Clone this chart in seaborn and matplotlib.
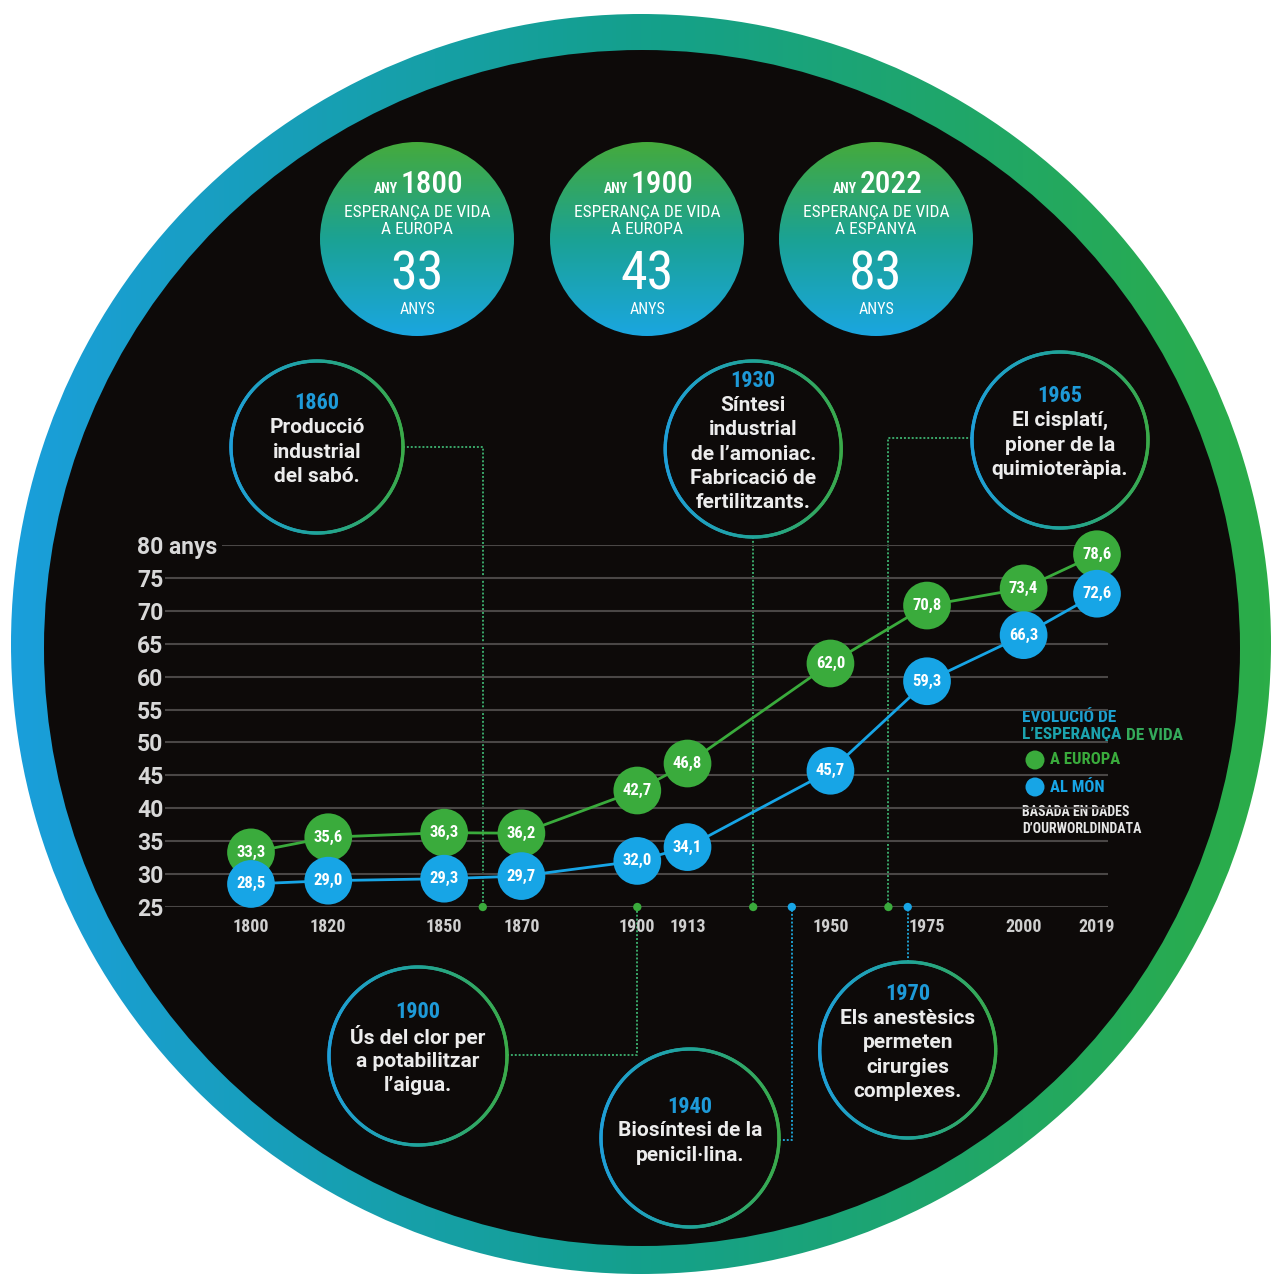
import numpy as np
import pandas as pd
import matplotlib
matplotlib.use("Agg")
import matplotlib.pyplot as plt
import matplotlib.font_manager as fm
import seaborn as sns
from matplotlib.patches import Circle
from matplotlib.collections import LineCollection
from matplotlib.colors import LinearSegmentedColormap

# ---------------- data ----------------
years = [1800, 1820, 1850, 1870, 1900, 1913, 1950, 1975, 2000, 2019]
europe = [33.3, 35.6, 36.3, 36.2, 42.7, 46.8, 62.0, 70.8, 73.4, 78.6]
world = [28.5, 29.0, 29.3, 29.7, 32.0, 34.1, 45.7, 59.3, 66.3, 72.6]
y_ticks = [25, 30, 35, 40, 45, 50, 55, 60, 65, 70, 75, 80]
y_tick_labels = ["25", "30", "35", "40", "45", "50", "55", "60", "65", "70", "75", "80 anys"]
x_tick_labels = ["1800", "1820", "1850", "1870", "1900", "1913", "1950", "1975", "2000", "2019"]

top_years = ["1800", "1900", "2022"]
top_places = ["A EUROPA", "A EUROPA", "A ESPANYA"]
top_values = ["33", "43", "83"]

event_years = [1860, 1930, 1965, 1900, 1940, 1970]
event_texts = [
    "Producció\nindustrial\ndel sabó.",
    "Síntesi\nindustrial\nde l’amoniac.\nFabricació de\nfertilitzants.",
    "El cisplatí,\npioner de la\nquimioteràpia.",
    "Ús del clor per\na potabilitzar\nl’aigua.",
    "Biosíntesi de la\npenicil·lina.",
    "Els anestèsics\npermeten\ncirurgies\ncomplexes.",
]
event_groups = ["green", "green", "green", "green", "blue", "blue"]

# ---------------- layout / style ----------------
W, H, DPI = 1275, 1278, 100
GREEN = "#3aab3c"
BLUE = "#17a5e6"
YEAR_BLUE = "#1e9ad8"
BLACK = "#0d0a09"

_names = {f.name for f in fm.fontManager.ttflist}


def pick(cands, default="DejaVu Sans"):
    for c in cands:
        if c in _names:
            return c
    return default


BODY = pick(["Roboto", "Lato", "Open Sans"])
COND = pick(["Roboto Condensed", "Open Sans Condensed", "Liberation Sans Narrow", "Roboto", "Lato"])

# event circle layout: (cx, cy, r, side, elbow_y)
event_layout = [
    (317, 447, 86, "right", 447),
    (None, 449, 88, "bottom", None),
    (1060, 440, 88, "left", 438),
    (418, 1056, 89, "right", 1055),
    (690, 1138, 89, "right", 1140),
    (None, 1050, 88, "top", None),
]
top_centers = [(417, 239), (647, 239), (876, 239)]
TOP_R = 97

fig = plt.figure(figsize=(W / DPI, H / DPI), dpi=DPI, facecolor="white")

# background (pixel coordinates)
bg = fig.add_axes([0, 0, 1, 1], zorder=0)
bg.axis("off")

ring_cmap = LinearSegmentedColormap.from_list("ring", ["#1a9edb", "#14a08c", "#2bad48"])
outline_cmap = LinearSegmentedColormap.from_list("outl", ["#1f9fd8", "#20a49a", "#3aaa4a"])
top_cmap = LinearSegmentedColormap.from_list("topc", ["#45aa3c", "#1ba294", "#1aa6e0"])

# big ring
RCX, RCY, RR = 641, 644, 630
im = bg.imshow(np.linspace(0, 1, 256).reshape(1, -1), cmap=ring_cmap,
               extent=(RCX - RR, RCX + RR, RCY + RR, RCY - RR), aspect="auto",
               interpolation="bilinear", zorder=1)
im.set_clip_path(Circle((RCX, RCY), RR, transform=bg.transData))
bg.add_patch(Circle((642, 648), 598, facecolor=BLACK, edgecolor="none", zorder=2))

# top gradient circles
for (cx, cy), yr, place, val in zip(top_centers, top_years, top_places, top_values):
    timg = bg.imshow(np.linspace(0, 1, 256).reshape(-1, 1), cmap=top_cmap,
                     extent=(cx - TOP_R, cx + TOP_R, cy + TOP_R, cy - TOP_R), origin="upper",
                     aspect="auto", interpolation="bilinear", zorder=3)
    timg.set_clip_path(Circle((cx, cy), TOP_R, transform=bg.transData))
    bg.text(cx - 19, cy - 46, "ANY", ha="right", va="baseline", color="white",
            fontsize=10, fontweight="bold", family=COND, zorder=4)
    bg.text(cx - 16, cy - 46, yr, ha="left", va="baseline", color="white",
            fontsize=22.5, fontweight="medium", family=COND, zorder=4)
    bg.text(cx, cy - 26, "ESPERANÇA DE VIDA", ha="center", va="center", color="white",
            fontsize=12.5, family=COND, zorder=4)
    bg.text(cx, cy - 9, place, ha="center", va="center", color="white",
            fontsize=12.5, family=COND, zorder=4)
    bg.text(cx, cy + 50, val, ha="center", va="baseline", color="white",
            fontsize=39, family=COND, zorder=4)
    bg.text(cx, cy + 70, "ANYS", ha="center", va="center", color="white",
            fontsize=11.5, family=COND, zorder=4)

# ---------------- data axes ----------------
px_per_year = 3.863
x_left = 1800 - (251 - 165) / px_per_year
x_right = 2019 + (1108 - 1097) / px_per_year
ax = fig.add_axes([165 / W, 1 - 907 / H, (1108 - 165) / W, (907 - 545) / H], zorder=2)
ax.set_facecolor("none")

df = pd.DataFrame({
    "year": years * 2,
    "value": europe + world,
    "region": ["Europa"] * len(years) + ["Món"] * len(years),
})
palette = {"Europa": GREEN, "Món": BLUE}

gl_start = [x_left] * (len(y_ticks) - 1) + [1800 - (251 - 222) / px_per_year]
ax.hlines(y_ticks, xmin=gl_start, xmax=x_right, colors="#4a4746", linewidth=1.5, zorder=1)

sns.lineplot(data=df, x="year", y="value", hue="region", palette=palette, ax=ax,
             legend=False, linewidth=2.0, zorder=3, clip_on=False)
sns.scatterplot(data=df, x="year", y="value", hue="region", palette=palette, ax=ax,
                legend=False, s=1180, linewidth=0, zorder=4, clip_on=False)
for yr, v in zip(years * 2, europe + world):
    ax.text(yr, v, f"{v:.1f}".replace(".", ","), ha="center", va="center", color="white",
            fontsize=12, fontweight="bold", family=COND, zorder=6, clip_on=False)

ax.set_xlim(x_left, x_right)
ax.set_ylim(25, 80)
ax.set_xticks(years)
ax.set_xticklabels(x_tick_labels)
ax.set_yticks(y_ticks)
ax.set_yticklabels(y_tick_labels)
ax.tick_params(axis="x", length=0, pad=8.0, labelcolor="#cfcfcf", labelsize=13)
ax.tick_params(axis="y", length=0, pad=20.2, labelcolor="#d8d8d8", labelsize=16.5)
for lbl in ax.get_xticklabels():
    lbl.set_fontweight("bold")
    lbl.set_family(COND)
for lbl in ax.get_yticklabels():
    lbl.set_fontweight("bold")
    lbl.set_family(BODY)
    lbl.set_ha("left")
for s in ax.spines.values():
    s.set_visible(False)
ax.set_xlabel("")
ax.set_ylabel("")

dot_colors = [GREEN if g == "green" else BLUE for g in event_groups]
ax.scatter(event_years, [25] * len(event_years), s=36, c=dot_colors, linewidths=0,
           zorder=5, clip_on=False)


def to_px(xv, yv):
    d = ax.transData.transform((xv, yv))
    return d[0], H - d[1]


conn_colors = ["#3aa86a" if g == "green" else "#1e9fd0" for g in event_groups]

# ---------------- event circles ----------------
for yr, txt, (cx, cy, r, side, ey), cc in zip(event_years, event_texts, event_layout, conn_colors):
    X, Y = to_px(yr, 25)
    if cx is None:
        cx = X
    th = np.linspace(0, 2 * np.pi, 361)
    pts = np.column_stack([cx + r * np.cos(th), cy + r * np.sin(th)])
    segs = np.stack([pts[:-1], pts[1:]], axis=1)
    t = (np.cos((th[:-1] + th[1:]) / 2) + 1) / 2
    bg.add_collection(LineCollection(segs, colors=outline_cmap(t), linewidths=2.4,
                                     capstyle="round", zorder=5))
    # connector
    if side == "right":
        path = [(cx + r, ey), (X, ey), (X, Y)]
    elif side == "left":
        path = [(cx - r, ey), (X, ey), (X, Y)]
    elif side == "bottom":
        path = [(X, cy + r), (X, Y)]
    else:
        path = [(X, cy - r), (X, Y)]
    px_, py_ = zip(*path)
    bg.plot(px_, py_, color=cc, linewidth=1.4, linestyle=(0, (1, 1)), zorder=4)
    # text
    lines = txt.split("\n")
    n = len(lines) + 1
    sp = 24.4
    y0 = cy - 7 - (n - 1) * sp / 2
    bg.text(cx, y0, str(yr), ha="center", va="center", color=YEAR_BLUE, fontsize=16,
            fontweight="bold", family=COND, zorder=6)
    for i, ln in enumerate(lines):
        bg.text(cx, y0 + (i + 1) * sp, ln, ha="center", va="center", color="#ececec",
                fontsize=15, fontweight="bold", family=BODY, zorder=6)

# ---------------- legend ----------------
LX = 1022
LFS = 12.5
bg.text(LX, 717, "EVOLUCIÓ DE", ha="left", va="center", color="#1c9fcf", fontsize=LFS,
        fontweight="bold", family=COND, zorder=6)
t1 = bg.text(LX, 735, "L’ESPERANÇA ", ha="left", va="center", color="#1ca3ae", fontsize=LFS,
             fontweight="bold", family=COND, zorder=6)
fig.canvas.draw()
bb = t1.get_window_extent(renderer=fig.canvas.get_renderer())
bg.text(bb.x1, 735, "DE VIDA", ha="left", va="center", color="#34aa5a", fontsize=LFS,
        fontweight="bold", family=COND, zorder=6)
bg.add_patch(Circle((1035, 760), 9.5, facecolor=GREEN, edgecolor="none", zorder=6))
bg.text(1050, 760, "A EUROPA", ha="left", va="center", color=GREEN, fontsize=12,
        fontweight="bold", family=COND, zorder=6)
bg.add_patch(Circle((1035, 787), 9.5, facecolor=BLUE, edgecolor="none", zorder=6))
bg.text(1050, 787, "AL MÓN", ha="left", va="center", color=BLUE, fontsize=12,
        fontweight="bold", family=COND, zorder=6)
bg.text(LX, 812, "BASADA EN DADES", ha="left", va="center", color="#e6e6e6", fontsize=10,
        fontweight="bold", family=COND, zorder=6)
bg.text(LX, 829, "D’OURWORLDINDATA", ha="left", va="center", color="#e6e6e6", fontsize=10,
        fontweight="bold", family=COND, zorder=6)

bg.set_xlim(0, W)
bg.set_ylim(H, 0)

fig.savefig("out.png", dpi=DPI, facecolor="white")
